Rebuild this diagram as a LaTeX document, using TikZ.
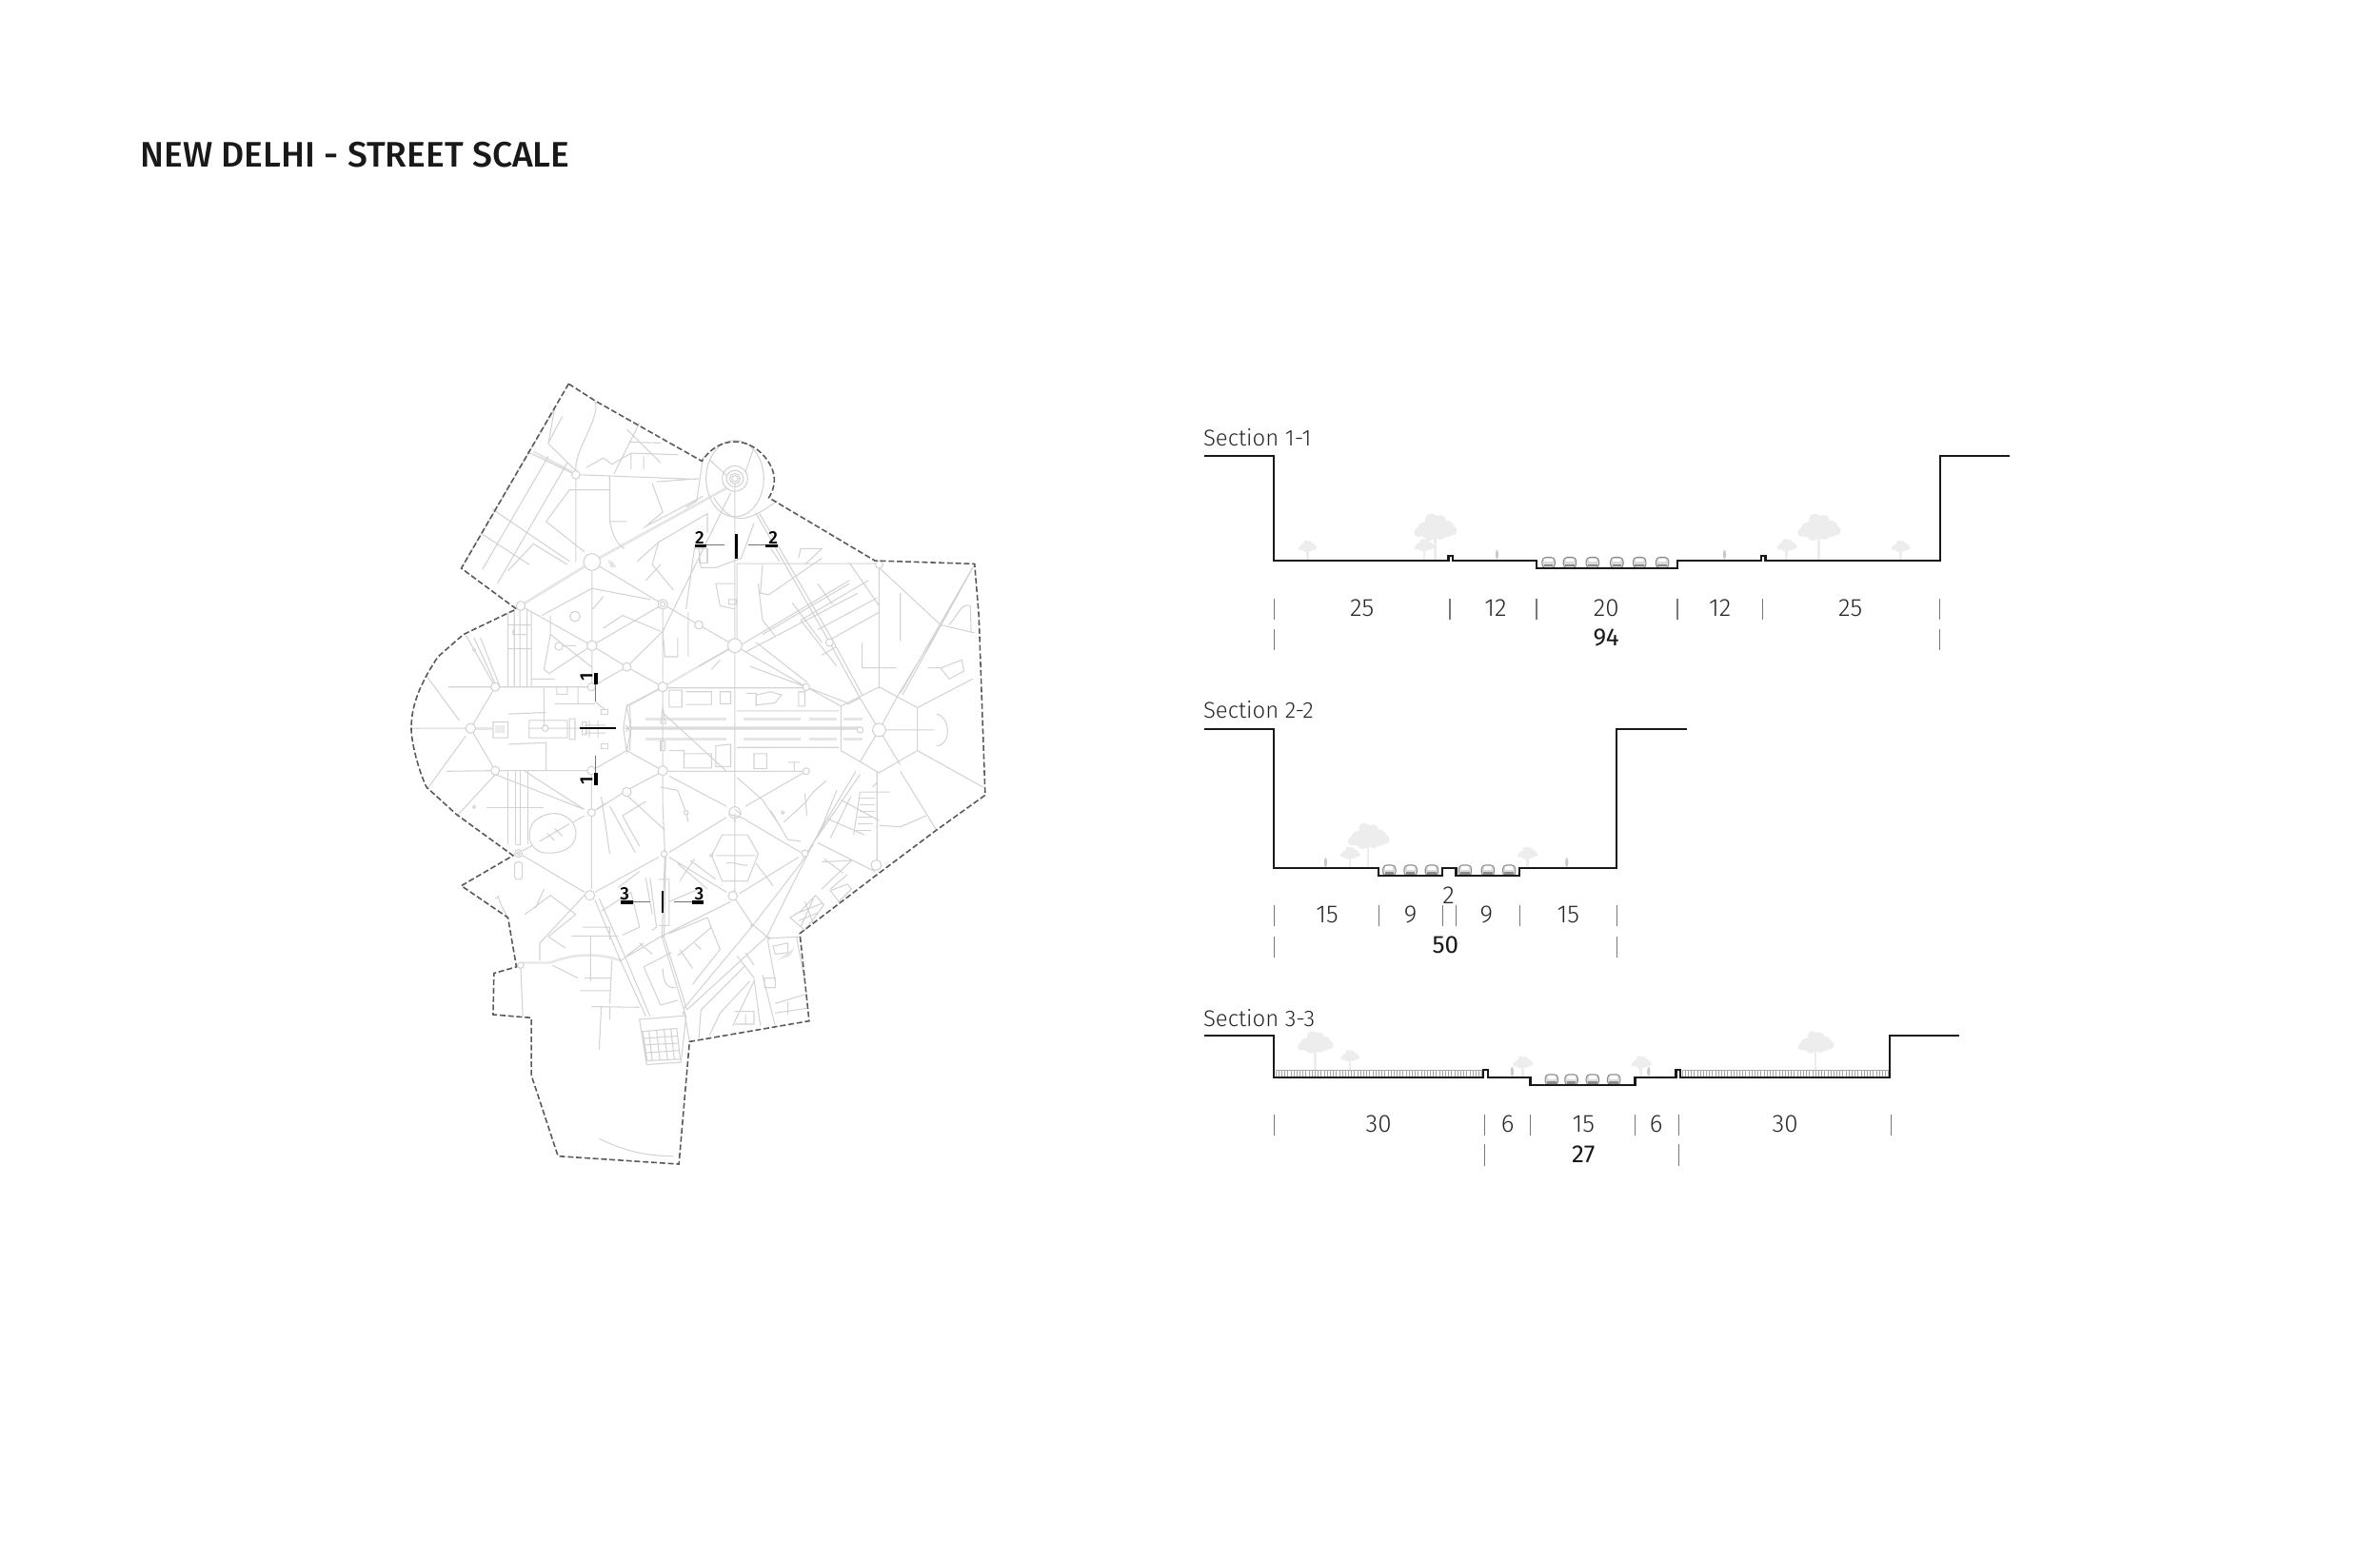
\documentclass[tikz,border=0pt]{standalone}
\usepackage{fontspec}
\setmainfont{Fira Sans}
\newfontfamily\lightfont{Fira Sans Light}
\newfontfamily\headfont{Fira Sans Medium}

\definecolor{roadgray}{HTML}{D3D3D3}
\definecolor{wayline}{HTML}{E6E6E6}
\definecolor{treegray}{HTML}{EDEDED}
\definecolor{cargray}{HTML}{8C8C8C}
\definecolor{dimgray}{HTML}{777777}

% one tree of a section: x, ground y, size
\newcommand{\sectree}[3]{%
    \draw[treegray,line width=0.8pt] (#1,#2) -- ++(0,-#3*0.75);
    \foreach \dx/\dy/\rr in {0/0.78/0.22,-0.22/0.68/0.17,0.24/0.7/0.19,-0.08/0.9/0.13,0.12/0.88/0.12,-0.36/0.62/0.1,0.38/0.66/0.11,0.12/0.6/0.14,-0.12/0.56/0.12}{
        \fill[treegray] ({#1+\dx*#3},{#2-\dy*#3}) circle [radius={\rr*#3*0.1593mm}];
    }
}
% one car of a section: x, floor y
\newcommand{\seccar}[2]{%
    \draw[cargray,fill=black!14,line width=0.3pt,rounded corners=0.4mm] (#1-4.2,#2) -- (#1-4.2,#2-7.2) -- (#1+4.2,#2-7.2) -- (#1+4.2,#2) -- cycle;
    \fill[white] (#1-2.6,#2-6.3) rectangle (#1+2.6,#2-4.2);
    \fill[cargray] (#1-3,#2-1) rectangle (#1+3,#2-2.6);
}
\newcommand{\secman}[2]{%
    \fill[treegray!85!black] (#1,#2-4) ellipse [x radius=0.16mm, y radius=0.5mm];
}

\begin{document}
\begin{tikzpicture}[x=0.01593cm, y=-0.01593cm,
road/.style={roadgray, line width=0.3pt},
mainroad/.style={wayline, line width=0.8pt},
border/.style={black!65, line width=0.45pt, dash pattern=on 1.7pt off 0.8pt},
profile/.style={black!90, line width=0.6pt},
tick/.style={dimgray, line width=0.35pt},
secmark/.style={black, line width=0.7pt},
secbar/.style={black, line width=1pt},
secthin/.style={black!55, line width=0.35pt},
titletext/.style={font=\headfont\fontsize{10.6}{12}\selectfont, anchor=west, inner sep=0pt, text=black!90},
sectiontext/.style={font=\lightfont\fontsize{6.8}{8}\selectfont, anchor=west, inner sep=0pt, text=black!85},
dimtext/.style={font=\lightfont\fontsize{7.4}{8}\selectfont, inner sep=0pt, text=black!85},
dimtotal/.style={font=\fontsize{7.4}{8}\selectfont, inner sep=0pt, text=black!90},
marktext/.style={font=\headfont\fontsize{5.4}{6}\selectfont, inner sep=0pt}]

\useasboundingbox (0,0) rectangle (1569.2,1015.6);

\node[titletext] (title) at (92,102) {NEW DELHI - STREET SCALE};

% PLAN
\begin{scope}[shift={(251,238)}, x=0.00446cm, y=-0.00334cm]

% north and middle
\draw[mainroad] (815,400) -- (498,632) -- (335,765);
\draw[mainroad,line width=0.6pt] (582,1085) -- (665,1025) -- (835,895);
\draw[mainroad,line width=1.1pt] (590,1155) -- (1130,1155);
\draw[mainroad,line width=0.8pt] (220,1155) -- (262,1155);
\foreach \sy in {1125,1190}{
    \draw[mainroad,line width=0.8pt] (625,\sy) -- (815,\sy) (855,\sy) -- (990,\sy) (1010,\sy) -- (1075,\sy) (1090,\sy) -- (1135,\sy);
}
\draw[mainroad,line width=0.7pt] (360,285) -- (450,348);
\fill[wayline] (535,625) -- (548,632) -- (555,648) -- (542,650) -- cycle;

\draw[road] (835,370) -- (835,1690)
  (825,415) -- (665,850) -- (580,962)
  (885,480) -- (1058,885) -- (1130,1060)
  (893,480) -- (1062,870) -- (1135,1050)
  (498,632) -- (665,765) -- (835,895) -- (1003,1025) -- (1085,1085)
  (498,632) -- (498,1025) (330,770) -- (498,895) -- (580,962) -- (665,1025)
  (498,895) -- (665,765)
  (498,715) -- (380,800) (498,715) -- (635,750)
  (665,765) -- (665,1288)
  (840,900) -- (1105,690) (860,915) -- (1125,730) (885,885) -- (1005,1010)
  (900,860) -- (1105,700) (990,815) -- (1150,690) (1030,845) -- (1170,745) (1055,880) -- (1175,790)
  (1105,635) -- (1175,770) (1030,700) -- (1065,765) (990,815) -- (1075,960) (1040,925) -- (1072,900)
  (840,637) -- (1165,637) (840,637) -- (840,890)
  (1175,650) -- (1320,830) -- (1400,855) (1320,830) -- (1220,1050)
  (1175,640) -- (1175,1030) (1135,885) -- (1135,965) -- (1215,965) (1225,730) -- (1225,880)
  (1395,650) -- (1225,1045) (1400,640) -- (1230,1050)
  (1175,1025) -- (1265,1090) -- (1265,1225) -- (1175,1295) -- (1085,1225) -- (1085,1085) -- cycle
  (1175,1160) -- (1130,1060) (1175,1160) -- (1220,1050) (1175,1160) -- (1130,1260) (1175,1160) -- (1225,1270) (1175,1160) -- (1305,1160)
  (1265,1090) -- (1395,1000) (1265,1225) -- (1420,1340)
  (1290,965) -- (1320,965) -- (1370,940) -- (1375,975) -- (1340,1000) -- (1320,965)
  (1310,1110) .. controls (1345,1120) and (1345,1210) .. (1310,1210)
  (1340,830) .. controls (1365,790) and (1370,760) .. (1390,770) -- (1392,855)
  (1130,1060) -- (1100,1080)
  (1003,1025) -- (1100,1075) (675,1028) -- (995,1028) (675,1290) -- (995,1290)
  (600,1155) -- (1130,1155) (668,1110) -- (815,1290)
  % blocks by the avenue
  (680,1035) -- (710,1035) -- (710,1088) -- (680,1088) -- cycle (720,1040) -- (780,1040) -- (780,1080) -- (720,1080)
  (800,1040) -- (825,1040) -- (825,1078) -- (800,1078) -- cycle (862,1045) -- (885,1045) -- (885,1085)
  (885,1050) -- (920,1040) -- (945,1050) -- (930,1075) -- (885,1082) (985,1040) -- (1000,1040) -- (1000,1085) -- (985,1085) -- cycle
  (680,1225) -- (715,1225) -- (715,1280) -- (780,1280) -- (780,1235) -- (715,1235)
  (790,1210) -- (825,1205) -- (825,1275) -- (790,1275) -- cycle (880,1235) -- (910,1235) -- (910,1282) -- (880,1282) -- cycle
  (960,1262) -- (988,1262) (975,1262) -- (975,1288) (840,1100) -- (1080,1100)
  (840,1215) -- (1080,1215)
  % west
  (72,1155) -- (200,1155) (270,1025) -- (212,1155) -- (270,1288)
  (108,990) -- (185,1130) (160,1025) -- (270,1025) -- (497,1025) (110,1345) -- (200,1180) (155,1290) -- (270,1288) -- (497,1288)
  (270,1025) -- (200,860) (220,870) -- (270,1015) (280,1020) -- (235,870)
  (300,790) -- (300,1025) (315,785) -- (315,1025) (328,775) -- (328,1025) (345,780) -- (345,1025) (355,790) -- (355,1025)
  (300,830) -- (355,830) (300,905) -- (355,905) (312,845) -- (312,860) -- (345,860) -- (345,845)
  (385,1025) -- (385,1150) (300,1110) -- (390,1105) (300,1205) -- (390,1200) (390,1200) -- (390,1288)
  (410,1078) -- (505,1078) (415,1025) -- (415,1048) -- (440,1048) -- (440,1025) (465,1025) -- (465,1078) (355,1000) -- (410,1000)
  (497,1025) -- (580,962) (506,1072) -- (528,1095)
  (350,1130) -- (440,1130) -- (440,1185) -- (350,1185) -- cycle (350,1155) -- (470,1155)
  (445,1125) -- (458,1125) -- (458,1190) -- (445,1190) -- cycle (475,1135) -- (485,1135) -- (485,1175) -- (475,1175) -- cycle
  (492,1130) -- (492,1185) (512,1130) -- (512,1185) (480,1145) -- (530,1145) (480,1170) -- (530,1170)
  (265,1135) -- (300,1135) -- (300,1185) -- (265,1185) -- cycle (275,1148) -- (290,1148) -- (290,1168) -- (275,1168) -- cycle
  (582,1155) -- (665,1155)
  (497,1288) -- (580,1225) (580,1225) -- (665,1288) (580,1085) -- (665,1025)
  (580,1085) -- (575,1155) -- (580,1225) (587,1085) -- (590,1155) -- (587,1225)
  % north west
  (190,652) -- (410,150) (240,655) -- (395,300) (275,700) -- (440,320) (345,285) -- (455,355)
  (410,150) -- (395,260) -- (460,345) (428,175) -- (395,258) (240,545) -- (350,640) (262,465) -- (445,630)
  (460,368) -- (460,632) (470,358) -- (745,372) (505,125) .. controls (520,180) and (455,280) .. (460,345)
  (445,405) -- (540,405) (445,405) -- (390,505) -- (480,600) (300,660) -- (360,575) -- (440,640)
  (540,360) -- (540,500) .. controls (545,550) and (560,580) .. (575,590) (540,505) -- (580,505)
  (485,335) -- (525,305) -- (545,325) -- (590,290) -- (700,295) (590,290) -- (590,340) (620,300) -- (620,340)
  (585,255) -- (660,258) (550,355) -- (610,195) (580,215) -- (660,320) (640,385) -- (665,475) -- (625,520) -- (760,425)
  (650,380) -- (750,370) (760,300) -- (745,440) -- (720,460)
  (655,570) -- (770,480) -- (770,540) (605,630) -- (655,570) -- (640,640) -- (690,720)
  (740,585) -- (720,780) (625,690) -- (660,640)
  (750,590) -- (755,650) -- (790,650) -- (850,620) -- (880,510) (790,700) -- (835,700) (790,700) -- (800,770) -- (835,780)
  (820,750) -- (838,750) -- (838,765) -- (820,765) -- cycle
  (900,640) -- (895,730) -- (915,735) -- (1040,620) (940,630) -- (920,590)
  (985,620) -- (990,590) -- (1040,590) -- (1000,640)
  (890,700) -- (900,815) -- (930,865) (740,590) -- (760,588) (970,760) -- (1040,885)
  (400,800) -- (400,860) -- (500,965) (400,860) -- (385,970) -- (400,985) (400,980) -- (497,895)
  (420,895) -- (460,895) (500,780) -- (525,740) (525,840) -- (570,800) -- (660,850)
  (665,850) -- (670,930) -- (700,930) -- (700,870) (725,790) -- (725,930)
  (800,940) -- (780,970) (750,960) -- (835,895) (870,960) -- (1003,1025)
  % circle of the centre
  (835,410) -- (835,490) (880,270) -- (860,350) (775,310) -- (815,360);
\draw[road] (835,370) ellipse [x radius=68, y radius=120];
\draw[road] (835,370) ellipse [x radius=30, y radius=40];
\draw[road] (835,370) ellipse [x radius=20, y radius=26];
\draw[road] (785,430) .. controls (830,520) and (860,510) .. (935,440);

% south part
\begin{scope}[shift={(0,1260)}]
\draw[mainroad,line width=0.7pt] (335,632) -- (400,632) .. controls (440,610) and (500,595) .. (565,625);
\fill[wayline] (935,625) -- (975,585) -- (965,610) -- cycle;
\draw[road] (665,30) -- (665,140) -- (670,290) -- (663,550) -- (715,780) -- (728,880)
  (672,290) -- (668,550) -- (722,780)
  (497,30) -- (497,400) (835,400) -- (830,420)
  (340,30) -- (480,150) (665,30) -- (580,90) -- (510,150) (680,45) -- (815,140) (1003,30) -- (860,140)
  (580,105) -- (670,215) (497,160) -- (530,130)
  (815,175) -- (680,285) (850,175) -- (990,285) (680,300) -- (815,410) (985,300) -- (845,415)
  (655,300) -- (505,410) (480,410) -- (335,295) (335,280) -- (480,170) (270,40) -- (180,170) (270,40) -- (480,150)
  (480,420) -- (375,570) -- (375,625) (505,435) -- (565,625) -- (625,800) (515,430) -- (575,610) -- (635,800)
  (565,625) -- (660,550) -- (825,440) (475,520) -- (540,520) -- (540,560) (450,548) -- (560,548)
  (340,480) -- (400,420) -- (460,480) -- (395,550) (395,550) -- (435,585) (385,400) -- (365,460)
  (300,490) .. controls (260,400) and (290,420) .. (270,430)
  (990,320) -- (880,510) -- (715,775) (1020,260) -- (1000,300) (1120,30) -- (990,320)
  (1130,40) -- (1020,255) -- (910,550) -- (722,780)
  (835,430) -- (875,510) -- (915,555) (915,555) -- (988,550) (1030,255) -- (1165,345) (1225,30) -- (1310,215)
  (1075,90) -- (1045,190) -- (1020,255) (1108,110) -- (1060,240) (1130,95) -- (1200,95) (1130,95) -- (1115,230)
  (1055,180) -- (1140,230) (1085,120) -- (1175,185) (1175,200) -- (1225,205) -- (1285,170)
  (1170,30) -- (1170,320) (1170,65) -- (1160,80) (1000,130) -- (1020,95) -- (1050,60)
  (1040,315) -- (1110,310) -- (1040,400) (1100,355) -- (1060,400) (1045,305) -- (1090,350)
  (900,120) -- (945,210) (920,155) -- (960,245) -- (990,250) (1000,130) -- (950,190) (1000,100) -- (1005,170)
  % blocks between the avenues
  (570,170) -- (625,125) (570,170) -- (610,265) (540,140) -- (600,285) (520,110) -- (540,290)
  (660,80) -- (700,90) -- (720,160) (720,160) -- (725,190) (900,120) -- (840,50)
  (805,230) -- (865,230) -- (890,290) -- (865,375) -- (805,375) -- (780,295) -- cycle
  (790,295) -- (885,295) (815,320) .. controls (830,310) and (850,330) .. (865,325)
  (730,310) -- (790,370) (740,305) -- (705,375) (885,320) -- (925,390) (700,320) -- (770,400)
  (610,345) -- (560,395) (625,365) -- (640,480) (635,365) -- (650,520) -- (640,530)
  (655,370) -- (680,370) -- (680,515) -- (655,515) (680,440) -- (750,400)
  (520,470) -- (590,410) -- (610,520) -- (570,545) (680,540) -- (770,490) -- (800,590) -- (735,700)
  (700,610) -- (780,520) (740,570) -- (755,590) (705,590) -- (735,650)
  (620,645) -- (685,600) (620,645) -- (660,765) -- (700,750) (665,650) .. controls (665,700) and (680,715) .. (695,710)
  (580,610) -- (620,570) (610,570) -- (640,605)
  (405,640) -- (465,680) (480,680) -- (545,680) (495,550) -- (495,690) (470,720) -- (540,720) (545,625) -- (540,760)
  (497,770) -- (610,772) (520,770) -- (515,905) (540,770) -- (540,810)
  (330,650) -- (335,800)
  (750,870) -- (755,780) -- (860,640) (775,860) -- (800,790) -- (870,690) (830,830) -- (880,690)
  (840,610) -- (880,680) -- (895,830) (860,600) -- (880,640) (900,670) -- (930,830) (930,690) -- (912,560)
  (930,760) -- (1005,730) (930,790) -- (1005,775) (960,755) -- (960,795) (925,580) -- (960,570) -- (960,600) -- (930,605) -- cycle
  (980,550) -- (1000,690) (835,785) -- (880,785) -- (880,825) -- (835,825)
  (860,795) -- (860,825) (905,680) -- (930,680) -- (930,710) -- (905,710) -- cycle
  % the square quarter
  (610,810) -- (720,798) -- (708,945) -- (627,952) -- cycle
  (618,848) -- (698,838) -- (706,935) -- (628,940) -- cycle
  (632,845) -- (640,938) (650,843) -- (658,936) (668,841) -- (676,935) (684,840) -- (692,935)
  (620,870) -- (700,862) (622,890) -- (702,885) (624,915) -- (704,908)
  (515,1185) .. controls (570,1220) and (620,1240) .. (690,1240);
\draw[road,fill=white] (360,190) .. controls (410,130) and (465,180) .. (460,230) .. controls (455,290) and (400,290) .. (380,285) .. controls (345,270) and (345,220) .. (360,190);
\draw[road] (375,250) -- (445,195) (392,225) -- (410,248) (410,210) -- (428,233);
\foreach \wx in {300,318,330,348}{
    \draw[road] (\wx,30) -- (\wx,260);
}
\draw[road] (250,143) -- (385,143) (318,260) -- (330,260);
\draw[road,rounded corners=0.3mm] (316,315) rectangle (334,370);
% the tight quarter in the south east
\draw[road] (990,470) -- (1025,420) -- (1045,450) -- (1000,530) -- (965,490) -- cycle
  (975,480) -- (1040,445) (985,500) -- (1030,475) (1000,440) -- (1020,510) (1020,430) -- (990,520);
\draw[road] (1060,405) -- (1100,385) -- (1110,400) -- (1080,440) -- cycle;
\foreach \gx/\gy in {1130/115,1130/135,1130/155,1125/175,1125/195,1120/215}{
    \draw[road] (\gx,\gy) -- ++(35,0);
}
\foreach \gr/\gs/\gt in {325/288/2.5,325/288/1.2,497/160/2.5,720/160/1.4,835/160/3.8,948/160/1,220/142/1,1000/288/2.2,668/290/2,780/295/1,
  493/420/3.2,830/422/3,330/640/2,565/624/0.5,915/555/0.8,663/550/0.7,875/515/0.6,715/790/0.9,1168/325/3.4}{
    \draw[road,fill=white] (\gr,\gs) circle [radius=\gt*0.16mm];
}
\draw[road] (835,160) -- (835,190) (835,150) -- (850,165) (820,165) -- (850,175);
\end{scope}

% the roundabouts of the north and middle
\foreach \gr/\gs/\gt in {460/358/2.7,498/632/5.5,330/770/3,665/765/3.2,665/765/1.6,750/830/2.7,835/895/4.6,498/895/3.3,458/803/3.3,420/897/2.6,
  580/962/2.8,497/1025/2.6,665/1025/3.2,270/1025/2.8,1003/1025/2.3,1058/885/2.5,1175/640/2.5,1175/1160/4.3,212/1155/3.2,
  270/1288/2.8,497/1288/2.8,665/1288/3.2,1003/1290/2.2,580/1355/3,220/908/1,388/1155/2,1130/1160/2}{
    \draw[road,fill=white] (\gr,\gs) circle [radius=\gt*0.16mm];
}
\draw[road,fill=white] (835,370) circle [radius=0.55mm];
\draw[road] (835,370) circle [radius=0.32mm];
\draw[road,fill=white] (580,1085) -- (590,1155) -- (580,1228) -- (572,1155) -- cycle;
\draw[road] (572,1155) -- (590,1155) (578,1145) -- (588,1165) (588,1145) -- (578,1165);
\draw[road] (665,1090) -- (660,1140) -- (672,1140) -- cycle;
\draw[road] (660,1195) -- (660,1225) -- (670,1225) -- (670,1195) -- cycle;
\fill[wayline!70!white] (270,1145) rectangle (290,1170);
\draw[road] (520,1095) rectangle (535,1112) (520,1205) rectangle (535,1220);
\draw[road] (750,590) rectangle (770,635);

% ward boundary
\draw[border] (443,72) -- (505,125) -- (757,315)
  .. controls (775,280) and (800,254) .. (835,254)
  .. controls (885,254) and (928,320) .. (928,375)
  .. controls (928,395) and (922,415) .. (915,430)
  -- (1165,628) -- (1400,638) -- (1410,800) -- (1425,1365) -- (1310,1475) -- (1165,1620) -- (988,1800)
  -- (1010,2075) -- (728,2140) -- (703,2525) -- (418,2500) -- (355,2245) -- (355,2065) -- (265,2055) -- (267,1925)
  -- (320,1905) -- (300,1750) -- (190,1650) -- (312,1555) -- (178,1425) -- (108,1340)
  .. controls (90,1290) and (72,1200) .. (72,1155) .. controls (72,1080) and (95,1010) .. (135,930)
  -- (195,860) -- (320,780) -- (190,652) -- cycle;

% SECTION MARKS
\draw[secmark] (838,545) -- (838,622);
\draw[secthin] (768,578) -- (810,578) (867,578) -- (907,578);
\draw[secbar] (740,581) -- (768,581) (907,581) -- (935,581);
\node[marktext] (markTwoW) at (752,555) {2};
\node[marktext] (markTwoE) at (925,555) {2};

\draw[secmark] (470,1155) -- (555,1155);
\draw[secthin] (506,1018) -- (506,1072) (506,1240) -- (506,1295);
\draw[secbar] (508,980) -- (508,1018) (508,1295) -- (508,1333);
\node[marktext, rotate=90] (markOneN) at (485,995) {1};
\node[marktext, rotate=90] (markOneS) at (485,1320) {1};

\draw[secmark] (664,1665) -- (664,1735);
\draw[secthin] (595,1701) -- (635,1701) (692,1701) -- (733,1701);
\draw[secbar] (566,1702) -- (595,1702) (733,1702) -- (762,1702);
\node[marktext] (markThreeW) at (575,1675) {3};
\node[marktext] (markThreeE) at (751,1675) {3};
\end{scope}

\begin{scope}[shift={(1,0.7)}]
% SECTION 1-1
\node[sectiontext] (labelOne) at (792,288) {Section 1-1};
\foreach \tx/\ts in {861/13,945/30,938/14,1177/14,1198/30,1252/13}{
    \sectree{\tx}{369}{\ts}
}
\foreach \cx in {1020,1034,1049,1065,1080,1095}{
    \seccar{\cx}{374}
}
\secman{986}{369}
\secman{1136}{369}
\draw[profile] (793,300) -- (839,300) -- (839,369) -- (954,369) -- (954,366) -- (957,366) -- (957,369)
  -- (1012,369) -- (1012,374) -- (1105,374) -- (1105,369) -- (1160,369) -- (1160,366) -- (1163,366)
  -- (1163,369) -- (1278,369) -- (1278,300) -- (1324,300);
\foreach \tx in {839,955,1012,1105,1161,1278}{
    \draw[tick] (\tx,394) -- (\tx,408);
}
\foreach \tx in {839,1278}{
    \draw[tick] (\tx,414) -- (\tx,428);
}
\node[dimtext] (oneA) at (897,400) {25};
\node[dimtext] (oneB) at (985,400) {12};
\node[dimtext] (oneC) at (1058,400) {20};
\node[dimtext] (oneD) at (1133,400) {12};
\node[dimtext] (oneE) at (1219,400) {25};
\node[dimtotal] (oneAll) at (1058,420) {94};

% SECTION 2-2
\node[sectiontext] (labelTwo) at (792,467.5) {Section 2-2};
\foreach \tx/\ts in {901/29,889/14,1006/14}{
    \sectree{\tx}{572}{\ts}
}
\foreach \cx in {915,929,943,965,980,994}{
    \seccar{\cx}{577}
}
\secman{873}{572}
\secman{1032}{572}
\draw[profile] (793,480) -- (839,480) -- (839,572) -- (908,572) -- (908,577) -- (950,577) -- (950,572)
  -- (959,572) -- (959,577) -- (1001,577) -- (1001,572) -- (1065,572) -- (1065,480) -- (1111,480);
\foreach \tx in {839,908,950,959,1001,1065}{
    \draw[tick] (\tx,596) -- (\tx,610);
}
\foreach \tx in {839,1065}{
    \draw[tick] (\tx,617) -- (\tx,631);
}
\node[dimtext] (twoA) at (874,602.5) {15};
\node[dimtext] (twoB) at (929,602.5) {9};
\node[dimtext] (twoC) at (954,590) {2};
\node[dimtext] (twoD) at (979,602.5) {9};
\node[dimtext] (twoE) at (1033,602.5) {15};
\node[dimtotal] (twoAll) at (952,622.5) {50};

% SECTION 3-3
\node[sectiontext] (labelThree) at (792,670.5) {Section 3-3};
\foreach \tx/\ts in {866/25,889/13,1196/25}{
    \sectree{\tx}{705}{\ts}
}
\foreach \tx/\ts in {1003/14,1081/14}{
    \sectree{\tx}{710}{\ts}
}
\foreach \gx in {840,842,...,976,1108,1110,...,1244}{
    \draw[black!35,line width=0.15pt] (\gx,705) -- (\gx,710);
}
\draw[black!35,line width=0.2pt] (840,705) -- (976,705) (1108,705) -- (1244,705);
\foreach \cx in {1022,1035,1049,1063}{
    \seccar{\cx}{715}
}
\secman{996}{710}
\secman{1086}{710}
\draw[profile] (793,682) -- (839,682) -- (839,710) -- (977,710) -- (977,705) -- (980,705) -- (980,710)
  -- (1008,710) -- (1008,715) -- (1077,715) -- (1077,710) -- (1104,710) -- (1104,705) -- (1107,705)
  -- (1107,710) -- (1245,710) -- (1245,682) -- (1291,682);
\foreach \tx in {839,978,1008,1077,1106,1246}{
    \draw[tick] (\tx,734) -- (\tx,748);
}
\foreach \tx in {978,1106}{
    \draw[tick] (\tx,754) -- (\tx,768);
}
\node[dimtext] (threeA) at (908,740.5) {30};
\node[dimtext] (threeB) at (993,740.5) {6};
\node[dimtext] (threeC) at (1043,740.5) {15};
\node[dimtext] (threeD) at (1091,740.5) {6};
\node[dimtext] (threeE) at (1176,740.5) {30};
\node[dimtotal] (threeAll) at (1043,760.5) {27};
\end{scope}

\end{tikzpicture}
\end{document}
